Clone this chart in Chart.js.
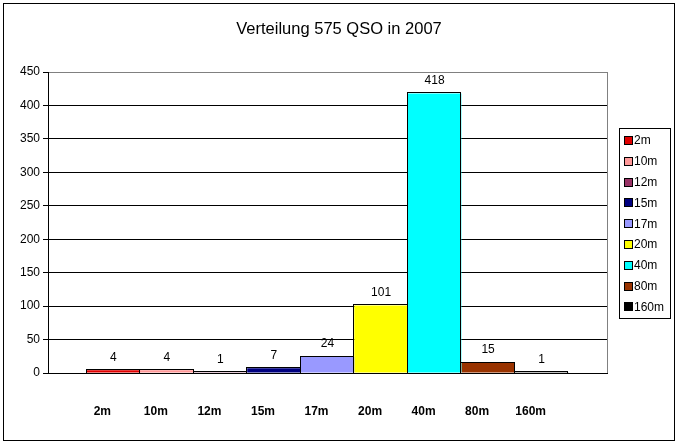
<!DOCTYPE html>
<html>
<head>
<meta charset="utf-8">
<script src="https://cdn.jsdelivr.net/npm/chart.js@4"></script>
<style>
  body { margin: 0; background: #fff; }
  #wrap { width: 681px; height: 444px; }
</style>
</head>
<body>
<div id="wrap"><canvas id="qso-chart" width="681" height="444"></canvas></div>
<script>
const bands = ["2m", "10m", "12m", "15m", "17m", "20m", "40m", "80m", "160m"];
const qsoCounts = [4, 4, 1, 7, 24, 101, 418, 15, 1];
const bandColors = ["#E00000", "#FF9999", "#993366", "#000080", "#9999FF", "#FFFF00", "#00FFFF", "#993300", "#000000"];
const yTicks = [0, 50, 100, 150, 200, 250, 300, 350, 400, 450];
const chartTitle = "Verteilung 575 QSO in 2007";

const FONT = "'Liberation Sans', Arial, sans-serif";

// one dataset per band, all in a single category (like the Excel original)
const datasets = bands.map((b, i) => ({
  label: b,
  data: [qsoCounts[i]],
  backgroundColor: bandColors[i],
  borderWidth: 0,
}));

const decorations = {
  id: "decorations",
  afterDatasetsDraw(chart) {
    // outline every bar outside its fill so thin bars keep their colour
    const c = chart.ctx;
    c.save();
    c.strokeStyle = "#000";
    c.lineWidth = 1;
    chart.data.datasets.forEach((ds, i) => {
      const bar = chart.getDatasetMeta(i).data[0];
      const l = Math.round(bar.x - bar.width / 2) - 0.5;
      const r = Math.round(bar.x + bar.width / 2) - 0.5;
      const t = Math.round(bar.y) - 0.5;
      const btm = Math.round(bar.base) + 0.5;
      c.strokeRect(l, t, r - l, btm - t);
    });
    c.restore();
  },
  afterDraw(chart) {
    const c = chart.ctx;
    const area = chart.chartArea;
    c.save();

    // title
    c.fillStyle = "#000";
    c.textAlign = "center";
    c.textBaseline = "middle";
    c.font = "16.5px " + FONT;
    c.fillText(chartTitle, 339, 29);

    // plot area right border
    c.strokeStyle = "#808080";
    c.lineWidth = 1;
    c.beginPath();
    c.moveTo(Math.round(area.right) + 0.5, area.top);
    c.lineTo(Math.round(area.right) + 0.5, area.bottom);
    c.stroke();

    // value labels and band names
    chart.data.datasets.forEach((ds, i) => {
      const bar = chart.getDatasetMeta(i).data[0];
      c.font = "12px " + FONT;
      c.fillText(String(ds.data[0]), bar.x, bar.y - 13);
      c.font = "bold 12px " + FONT;
      c.fillText(ds.label, bar.x - 11, 412);
    });

    // legend box
    const lx = 619, ly = 128, lw = 51, lh = 190;
    c.strokeStyle = "#000";
    c.strokeRect(lx + 0.5, ly + 0.5, lw, lh);
    c.font = "12px " + FONT;
    c.textAlign = "left";
    bands.forEach((b, i) => {
      const y = ly + 12 + i * 20.8;
      c.fillStyle = bandColors[i];
      c.fillRect(lx + 6, Math.round(y) - 3, 7, 7);
      c.strokeStyle = "#000";
      c.strokeRect(lx + 5.5, Math.round(y) - 3.5, 8, 8);
      c.fillStyle = "#000";
      c.fillText(b, lx + 15, y + 1);
    });

    // outer chart border
    c.strokeStyle = "#000";
    c.strokeRect(3.5, 3.5, 671, 437);
    c.restore();
  },
};

new Chart(document.querySelector("#qso-chart"), {
  type: "bar",
  data: {
    labels: [""],
    datasets: datasets,
  },
  options: {
    responsive: false,
    animation: false,
    layout: {
      padding: { top: 72, left: 8, right: 74, bottom: 0 },
    },
    categoryPercentage: 0.862,
    barPercentage: 1,
    plugins: {
      legend: { display: false },
      tooltip: { enabled: false },
      title: { display: false },
    },
    scales: {
      x: {
        ticks: { display: false },
        grid: { display: false },
        border: { display: true, color: "#000" },
        afterFit: (scale) => { scale.height = 71; },
      },
      y: {
        min: 0,
        max: 450,
        afterBuildTicks: (scale) => { scale.ticks = yTicks.map((v) => ({ value: v })); },
        afterFit: (scale) => { scale.width = 40; },
        ticks: {
          color: "#000",
          padding: 3,
          font: { family: FONT, size: 12 },
        },
        grid: {
          color: (ctx) => (ctx.tick && ctx.tick.value === 450 ? "#808080" : "#000"),
          tickColor: "#000",
          tickLength: 5,
        },
        border: { color: "#000" },
      },
    },
  },
  plugins: [decorations],
});
</script>
</body>
</html>
